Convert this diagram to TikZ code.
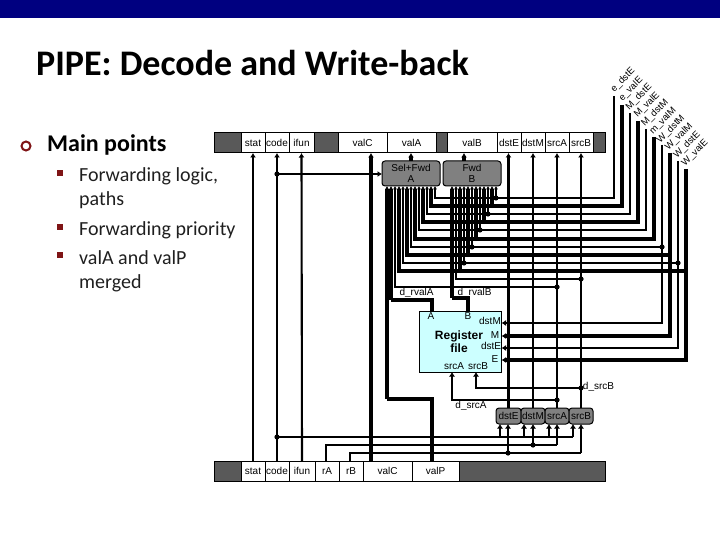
\documentclass[tikz,border=0pt]{standalone}
\usepackage{fontspec}
\setmainfont{Liberation Sans}
\newfontfamily\calibri{Carlito}
\usetikzlibrary{arrows.meta,calc}
\definecolor{navy}{HTML}{000080}
\definecolor{darkcell}{HTML}{595959}
\definecolor{boxgray}{HTML}{808080}
\definecolor{regcyan}{HTML}{CCFFFF}
\definecolor{bulletred}{HTML}{7F1416}
\newcommand{\fieldcell}[6]{% name, x1, x2, ycentre, fill, text
  \pgfmathsetmacro{\cellw}{#3-#2}\pgfmathsetmacro{\cellc}{(#2+#3)/2}
  \node[cell, fill=#5, minimum width=\cellw pt] (#1) at (\cellc,#4) {#6};}
\tikzset{
  x=1pt, y=-1pt,
  small/.style={font=\fontsize{10}{11.5}\selectfont, inner sep=0pt, outer sep=0pt},
  cell/.style={small, draw=black, line width=1pt, minimum height=20pt, outer sep=0pt},
  grayrnd/.style={small, draw=black, line width=1pt, fill=boxgray, rounded corners=3pt, outer sep=0pt, align=center},
  thinw/.style={line width=2.1pt, black},
  thickw/.style={line width=4.3pt, black},
  tip/.style={-{Latex[length=4.5pt,width=6pt]}},
  minitip/.style={-{Latex[length=3.5pt,width=4pt]}},
  titletext/.style={font=\calibri\bfseries\fontsize{36}{40}\selectfont, anchor=base west, inner sep=0pt},
  headtext/.style={font=\calibri\bfseries\fontsize{24}{28}\selectfont, anchor=base west, inner sep=0pt},
  bodytext/.style={font=\calibri\fontsize{20}{24}\selectfont, anchor=base west, inner sep=0pt, text=black!88},
  sq/.style={fill=bulletred, minimum size=6pt, inner sep=0pt, outer sep=0pt},
}
\begin{document}
\begin{tikzpicture}[line join=miter]
\useasboundingbox (0,0) rectangle (720,540);
\fill[navy] (0,0) rectangle (720,18);
% slide text
\node[titletext] (title) at (36,76) {PIPE: Decode and Write-back};
\node[draw=bulletred, line width=2pt, circle, minimum size=9pt, inner sep=0pt] (b0) at (26,146) {};
\node[headtext] (main) at (47,152) {Main points};
\node[sq] (b1) at (60,173) {};
\node[sq] (b2) at (60,227) {};
\node[sq] (b3) at (60,255) {};
\node[bodytext] (t1) at (79,182) {Forwarding logic,};
\node[bodytext] (t1b) at (79,206) {paths};
\node[bodytext] (t2) at (79,236) {Forwarding priority};
\node[bodytext] (t3) at (79,264) {valA and valP};
\node[bodytext] (t3b) at (79,288) {merged};
% upper pipeline register
\fieldcell{Ud1}{214}{241}{143}{darkcell}{}
\fieldcell{Ustat}{241}{265}{143}{white}{stat}
\fieldcell{Ucode}{265}{289}{143}{white}{code}
\fieldcell{Uifun}{289}{314}{143}{white}{ifun}
\fieldcell{Ud2}{314}{338}{143}{darkcell}{}
\fieldcell{UvalC}{338}{387}{143}{white}{valC}
\fieldcell{UvalA}{387}{436}{143}{white}{valA}
\fieldcell{Ud3}{436}{447}{143}{darkcell}{}
\fieldcell{UvalB}{447}{497}{143}{white}{valB}
\fieldcell{UdstE}{497}{521}{143}{white}{dstE}
\fieldcell{UdstM}{521}{545}{143}{white}{dstM}
\fieldcell{UsrcA}{545}{569}{143}{white}{srcA}
\fieldcell{UsrcB}{569}{593}{143}{white}{srcB}
\fieldcell{Ud4}{593}{605}{143}{darkcell}{}
% lower pipeline register
\fieldcell{Ld1}{214}{241}{471}{darkcell}{}
\fieldcell{Lstat}{241}{265}{471}{white}{stat}
\fieldcell{Lcode}{265}{289}{471}{white}{code}
\fieldcell{Lifun}{289}{315}{471}{white}{ifun}
\fieldcell{LrA}{315}{339}{471}{white}{rA}
\fieldcell{LrB}{339}{363}{471}{white}{rB}
\fieldcell{LvalC}{363}{412}{471}{white}{valC}
\fieldcell{LvalP}{412}{459}{471}{white}{valP}
\fieldcell{Ld2}{459}{605}{471}{darkcell}{}
% forwarding boxes
\node[grayrnd, minimum width=58pt, minimum height=25pt] (selA) at (411,173.5) {Sel+Fwd\\A};
\node[grayrnd, minimum width=58pt, minimum height=25pt] (fwdB) at (472,173.5) {Fwd\\B};
% register file
\node[draw=black, line width=1pt, fill=regcyan, minimum width=82pt, minimum height=61pt, inner sep=0pt, outer sep=0pt] (reg) at (460,341.5) {};
\node[font=\bfseries\fontsize{12}{13}\selectfont, align=center, inner sep=0pt] (regt) at (459,341.5) {Register\\file};
\node[small] (pA) at (431,316) {A};
\node[small] (pB) at (468,316) {B};
\node[small] (pdM) at (490,321) {dstM};
\node[small] (pM) at (495,335) {M};
\node[small] (pdE) at (491,346) {dstE};
\node[small] (pE) at (495,359) {E};
\node[small] (psA) at (454,366) {srcA};
\node[small] (psB) at (478,366) {srcB};
% small decode boxes
\node[grayrnd, minimum width=25pt, minimum height=16pt] (DdstE) at (508.5,416) {dstE};
\node[grayrnd, minimum width=24pt, minimum height=16pt] (DdstM) at (533,416) {dstM};
\node[grayrnd, minimum width=24pt, minimum height=16pt] (DsrcA) at (557,416) {srcA};
\node[grayrnd, minimum width=24pt, minimum height=16pt] (DsrcB) at (581,416) {srcB};
% net labels
\node[small] (lrvA) at (416.5,293) {d\_rvalA};
\node[small] (lrvB) at (474.5,293) {d\_rvalB};
\node[small] (lsA) at (471,406) {d\_srcA};
\node[small] (lsB) at (598.5,387) {d\_srcB};
% stat, code, ifun, valC
\draw[thinw,tip] (Lstat.north) -- (Ustat.south);
\draw[thinw,tip] (Lcode.north) -- (Ucode.south);
\draw[thinw,tip] (Lifun.north) -- (Uifun.south);
\coordinate (cvalCb) at (371,461); \coordinate (cvalCt) at (371,153);
\draw[thickw,tip] (cvalCb) -- (cvalCt);
\coordinate (jcode1) at (277,174); \coordinate (jcode2) at (277,437);
\fill (jcode1) circle (2.6pt); \fill (jcode2) circle (2.6pt);
\draw[thinw,tip] (jcode1) -- (jcode1 -| selA.west);
% outputs of forward boxes
\draw[thickw,tip] (selA.north) -- (selA.north |- UvalA.south);
\coordinate (fb1) at (464,161); \coordinate (fb2) at (464,153);
\draw[thickw,tip] (fb1) -- (fb2);
% forwarding sources
\foreach \lab/\sx/\yt/\yh/\ax/\bx/\stl/\rr [count=\i] in {
  e\_dstE/614/96/198/435/496/thinw/2.6,
  e\_valE/622/105/206/431/492/thickw/2.1,
  M\_dstE/630/113/214/427/488/thinw/2.6,
  M\_valE/638/121/222/423/484/thickw/2.1,
  M\_dstM/646/129/230/419/480/thinw/2.6,
  m\_valM/654/137/239/415/476/thickw/2.1,
  W\_dstM/662/145/247/411/472/thinw/2.6,
  W\_valM/670/153/255/407/468/thickw/2.1,
  W\_dstE/678/161/263/403/464/thinw/2.6,
  W\_valE/686/169/271/399/460/thickw/2.1}{
  \coordinate (top\i) at (\sx,\yt);
  \coordinate (join\i) at (\bx,\yh);
  \coordinate (ina\i) at (\ax,186);
  \coordinate (inb\i) at (\bx,186);
  \node[small, font=\fontsize{9.5}{11}\selectfont, rotate=45] (lab\i) at ($(top\i)+(9,-16)$) {\lab};
  \draw[\stl] (top\i) |- (join\i);
  \draw[\stl,minitip] (join\i) -| (ina\i);
  \draw[\stl,minitip] (join\i) -- (inb\i);
  \fill (join\i) circle (\rr pt);
}
% write-back to register file
\coordinate (wbM) at (662,247); \coordinate (wbVM) at (670,255); \coordinate (wbE) at (678,263); \coordinate (wbVE) at (686,271);
\coordinate (rdM) at (501.5,323); \coordinate (rM) at (501.5,336); \coordinate (rdE) at (501.5,348); \coordinate (rE) at (501.5,360);
\fill (wbM) circle (2.6pt); \fill (wbE) circle (2.6pt);
\draw[thinw,tip] (wbM) |- (rdM);
\draw[thickw,tip] (wbVM) |- (rM);
\draw[thinw,tip] (wbE) |- (rdE);
\draw[thickw,tip] (wbVE) |- (rE);
% decode-id verticals
\draw[thinw,tip] (DdstE.north) -- (DdstE.north |- UdstE.south);
\draw[thinw,tip] (DdstM.north) -- (DdstM.north |- UdstM.south);
\draw[thinw,tip] (DsrcA.north) -- (DsrcA.north |- UsrcA.south);
\draw[thinw,tip] (DsrcB.north) -- (DsrcB.north |- UsrcB.south);
% d_srcA, d_srcB
\coordinate (fsA) at (395,186); \coordinate (jsA) at (557,287);
\coordinate (fsB) at (456,186); \coordinate (jsB) at (581,279);
\fill (jsA) circle (2.6pt); \fill (jsB) circle (2.6pt);
\draw[thinw,minitip] (jsA) -| (fsA);
\draw[thinw,minitip] (jsB) -| (fsB);
\coordinate (jrA) at (557,400); \coordinate (jrB) at (581,388);
\coordinate (rsA) at (452,372); \coordinate (rsB) at (476,372);
\fill (jrA) circle (2.6pt); \fill (jrB) circle (2.6pt);
\draw[thinw,tip] (jrA) -| (rsA);
\draw[thinw,tip] (jrB) -| (rsB);
% register outputs and valP
\coordinate (ra) at (432,311); \coordinate (rb) at (468,311);
\coordinate (fa) at (391,186); \coordinate (fbb) at (452,186); \coordinate (fp) at (387,186);
\coordinate (ka) at (391,300); \coordinate (kb) at (452,298); \coordinate (kp) at (387,399);
\draw[thickw] (ra) |- (ka);
\draw[thickw,minitip] (ka) -- (fa);
\draw[thickw] (rb) |- (kb);
\draw[thickw,minitip] (kb) -- (fbb);
\coordinate (pv) at (432,461);
\draw[thickw] (pv) |- (kp);
\draw[thickw,minitip] (kp) -- (fp);
% lower bus to decode boxes
\coordinate (c1) at (500,424); \coordinate (c2) at (524,424); \coordinate (c3) at (549,424); \coordinate (c4) at (573,424);
\coordinate (a1) at (533,424); \coordinate (a2) at (557,424);
\coordinate (b1c) at (508,424); \coordinate (b2c) at (581,424);
\draw[thinw] (jcode2) -- (jcode2 -| c4);
\foreach \cc in {c1,c2,c3,c4}{ \draw[thinw,tip] (jcode2 -| \cc) -- (\cc); }
\coordinate (hA) at (533,445); \coordinate (hB) at (508,453);
\coordinate (rAt) at (326,461); \coordinate (rBt) at (350,461);
\draw[thinw] (rAt) |- (a2 |- hA);
\draw[thinw,tip] (a2 |- hA) -- (a2);
\draw[thinw,tip] (hA) -- (a1);
\fill (hA) circle (2.6pt);
\draw[thinw] (rBt) |- (b2c |- hB);
\draw[thinw,tip] (b2c |- hB) -- (b2c);
\draw[thinw,tip] (hB) -- (b1c);
\fill (hB) circle (2.6pt);
\end{tikzpicture}
\end{document}
